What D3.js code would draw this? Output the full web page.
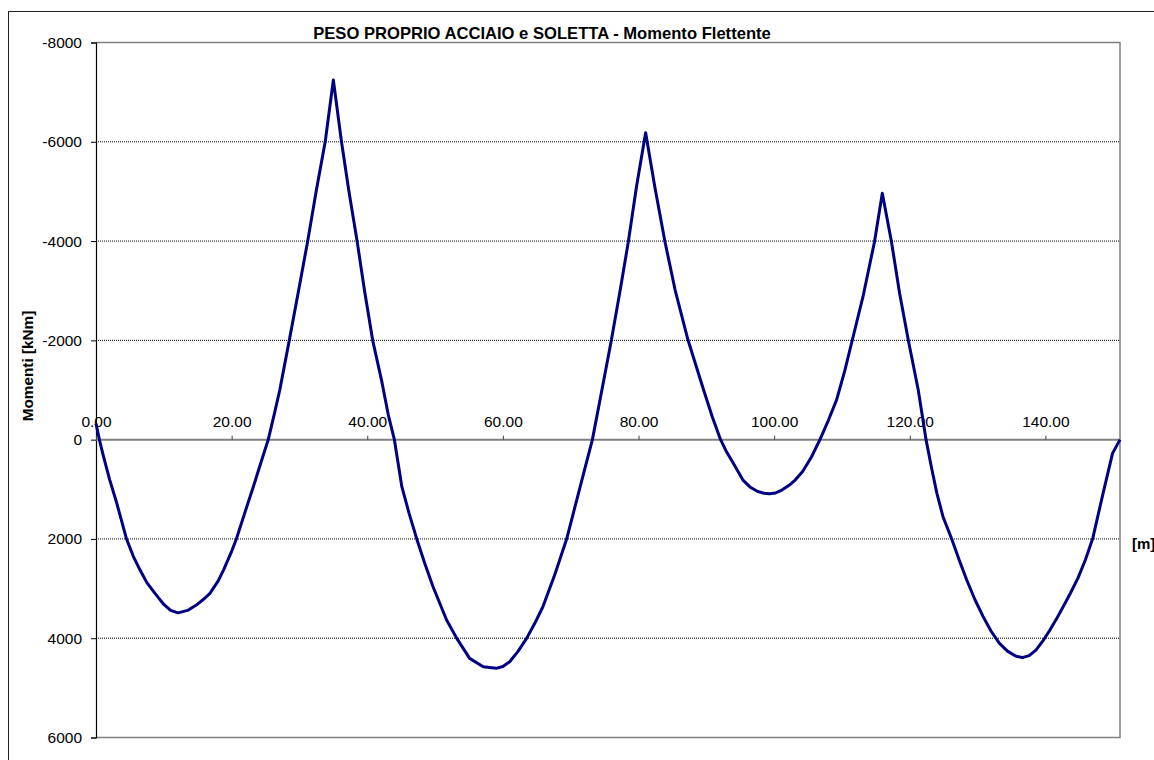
<!DOCTYPE html>
<html>
<head>
<meta charset="utf-8">
<script src="https://cdn.jsdelivr.net/npm/d3@7"></script>
<style>
  body { margin: 0; background: #fff; }
  svg { font-family: Arial, "Liberation Sans", sans-serif; }
</style>
</head>
<body>
<div id="chart"></div>
<script>
// progressive [m] and bending moment [kNm]
var xs = [0, 0.5, 1, 2, 3, 4.5, 5.5, 6.5, 7.5, 8.7, 10, 11, 12.1, 13.5, 14.8, 16, 16.8, 18, 18.8, 20, 20.7, 22, 23.2, 24.3, 25.4, 26.3, 27.1, 28.5, 29.8, 31.2, 32.5, 33.8,
  35.0, 36.2, 37.3, 38.5, 39.6, 40.8, 42.1, 43.1, 44.0, 45.1, 46.2, 47.3, 48.5, 49.7, 51.7, 53.2, 55.1, 57.1, 59.0, 60.0, 61.0, 62.2, 63.5, 64.7, 65.9, 67.7, 69.4, 71.4, 73.2, 74.6, 76.0, 77.3, 78.5, 79.7,
  81.05, 82.4, 83.9, 85.4, 87.3, 89.6, 90.9, 92.1, 93.0, 94.0, 95.4, 96.5, 97.5, 98.5, 99.3, 100.2, 101.2, 102.2, 103.1, 104.2, 105.5, 106.75, 108.0, 109.2, 110.4, 111.5, 113.1, 114.8,
  115.95, 117.3, 118.5, 119.8, 121.25, 122.4, 123.2, 124.0, 124.9, 126.2, 127.3, 128.4, 129.6, 130.8, 132.0, 133.2, 134.4, 135.6, 136.6, 137.6, 138.6, 139.6, 140.6, 141.6, 142.6, 143.7, 144.8, 145.9, 147.0, 148.5, 149.9, 151.0];
var moments = [-320, 0, 280, 800, 1250, 2000, 2350, 2627, 2880, 3097, 3320, 3440, 3490, 3440, 3332, 3200, 3097, 2850, 2627, 2250, 2000, 1450, 948, 470, 0, -520, -1000, -2000, -2947, -3987, -5028, -6001,
  -7245, -6000, -5000, -4000, -3000, -2000, -1200, -500, 0, 948, 1500, 2000, 2500, 2963, 3634, 4003, 4406, 4575, 4607, 4570, 4474, 4270, 4003, 3700, 3366, 2700, 2002, 948, 0, -1000, -2007, -3014, -3987, -5095,
  -6183, -5095, -3987, -3014, -2007, -1000, -450, 0, 250, 480, 814, 960, 1040, 1080, 1090, 1075, 1010, 920, 814, 640, 350, 0, -390, -798, -1380, -1992, -2879, -3987,
  -4962, -3987, -2947, -1992, -1000, 0, 560, 1082, 1553, 2008, 2430, 2828, 3220, 3560, 3860, 4100, 4260, 4360, 4390, 4350, 4240, 4060, 3850, 3620, 3370, 3090, 2790, 2420, 1980, 1082, 276, 0];

var yTicks = [-8000, -6000, -4000, -2000, 0, 2000, 4000, 6000];
var xTicks = [0, 20, 40, 60, 80, 100, 120, 140];

var title = "PESO PROPRIO ACCIAIO e SOLETTA - Momento Flettente";
var yTitle = "Momenti [kNm]";
var xTitle = "[m]";

var W = 1154, H = 760;
var plotL = 96, plotR = 1120, plotT = 42.5, plotB = 737.5;

var svg = d3.select("#chart").append("svg")
    .attr("width", W)
    .attr("height", H);

// outer chart frame
svg.append("rect")
    .attr("x", 8.5).attr("y", 11.5)
    .attr("width", W).attr("height", H)
    .attr("fill", "none")
    .attr("stroke", "#222")
    .attr("stroke-width", 1);

var x = d3.scaleLinear().domain([0, 151]).range([plotL, plotR]);
var y = d3.scaleLinear().domain([-8000, 6000]).range([plotT, plotB]);

// dotted gridlines
svg.append("g")
    .selectAll("line")
    .data(yTicks.filter(function(d){ return d != 0 && d != -8000 && d != 6000; }))
    .enter().append("line")
    .attr("x1", plotL).attr("x2", plotR)
    .attr("y1", function(d){ return y(d); })
    .attr("y2", function(d){ return y(d); })
    .attr("stroke", "#000")
    .attr("stroke-width", 1)
    .attr("stroke-dasharray", "1,1");

// plot area border (top, right, bottom)
svg.append("path")
    .attr("d", "M" + plotL + "," + plotT + "H" + plotR + "V" + plotB + "H" + plotL)
    .attr("fill", "none")
    .attr("stroke", "#808080")
    .attr("stroke-width", 1.5);

// y axis
var yAxis = svg.append("g")
    .attr("transform", "translate(" + plotL + ",0)")
    .call(d3.axisLeft(y).tickValues(yTicks).tickSize(5).tickPadding(9)
          .tickFormat(function(d){ return String(d); }));
yAxis.select(".domain").attr("stroke", "#000").attr("stroke-width", 1.2);
yAxis.selectAll(".tick line").attr("stroke", "#000");
yAxis.selectAll("text")
    .attr("font-size", "15.5px")
    .attr("font-family", "Arial, 'Liberation Sans', sans-serif")
    .attr("fill", "#000");

// x axis at zero, labels above
var xAxis = svg.append("g")
    .attr("transform", "translate(0," + y(0) + ")")
    .call(d3.axisTop(x).tickValues(xTicks).tickSize(4).tickPadding(9)
          .tickFormat(d3.format(".2f")));
xAxis.select(".domain").attr("d", "M" + plotL + ",0H" + plotR)
    .attr("stroke", "#808080").attr("stroke-width", 2);
xAxis.selectAll(".tick line").attr("stroke", "#404040");
xAxis.selectAll("text")
    .attr("font-size", "15.5px")
    .attr("font-family", "Arial, 'Liberation Sans', sans-serif")
    .attr("fill", "#000");

// moment line
var pts = xs.map(function(d, i){ return [d, moments[i]]; });
var line = d3.line()
    .x(function(d){ return x(d[0]); })
    .y(function(d){ return y(d[1]); });
svg.append("path")
    .datum(pts)
    .attr("d", line)
    .attr("fill", "none")
    .attr("stroke", "#000080")
    .attr("stroke-width", 3)
    .attr("stroke-linejoin", "round");

// titles
svg.append("text")
    .attr("x", 542).attr("y", 39)
    .attr("text-anchor", "middle")
    .attr("font-size", "16.6px")
    .attr("font-weight", "bold")
    .text(title);

svg.append("text")
    .attr("transform", "translate(33,366) rotate(-90)")
    .attr("text-anchor", "middle")
    .attr("font-size", "15.3px")
    .attr("font-weight", "bold")
    .text(yTitle);

svg.append("text")
    .attr("x", 1132).attr("y", 549)
    .attr("font-size", "15px")
    .attr("font-weight", "bold")
    .text(xTitle);
</script>
</body>
</html>
